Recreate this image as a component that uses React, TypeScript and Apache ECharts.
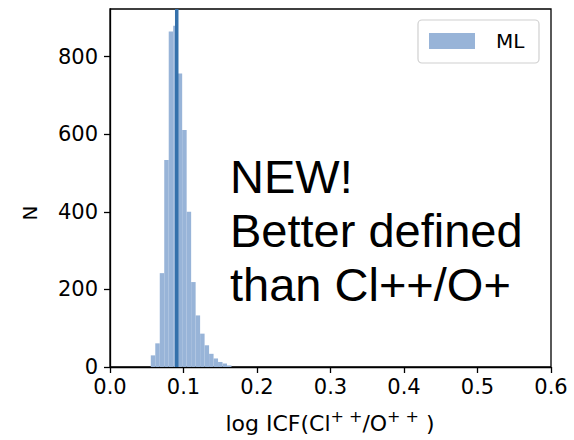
import React, { useEffect, useRef } from "react";
import * as echarts from "echarts";

// Histogram bin edges (log ICF) and counts
const binEdges = [
  0.0555, 0.0616, 0.0677, 0.0738, 0.0799, 0.086, 0.0921, 0.0982, 0.1043, 0.1104,
  0.1165, 0.1226, 0.1287, 0.1348, 0.1409, 0.147, 0.1531, 0.1592, 0.1653,
];
const counts = [30, 61, 242, 534, 865, 880, 757, 611, 400, 219, 133, 86, 56, 34, 22, 13, 9, 4];
const medianValue = 0.0908;
const xTicks = [0, 0.1, 0.2, 0.3, 0.4, 0.5, 0.6];
const yTicks = [0, 200, 400, 600, 800];
const seriesName = "ML";

const BAR_COLOR = "#98b4d8";
const LINE_COLOR = "#3571ab";
const FONT = "DejaVu Sans";

export default function App() {
  const ref = useRef<HTMLDivElement>(null);
  useEffect(() => {
    if (!ref.current) return;
    const chart = echarts.init(ref.current, null, { renderer: "svg" });
    const data = counts.map((c, i) => [binEdges[i], binEdges[i + 1], c]);
    const yMax = 923;
    chart.setOption({
      animation: false,
      grid: {
        left: 110,
        top: 9,
        width: 441,
        height: 358,
        show: true,
        borderColor: "#000",
        borderWidth: 1.3,
        backgroundColor: "transparent",
      },
      xAxis: {
        type: "value",
        min: 0,
        max: 0.6,
        interval: 0.1,
        splitLine: { show: false },
        axisLine: { show: true, onZero: false, lineStyle: { color: "#000", width: 1.3 } },
        axisTick: {
          show: true,
          length: 6,
          lineStyle: { color: "#000", width: 1.3 },
          customValues: xTicks,
        },
        axisLabel: {
          color: "#000",
          fontFamily: FONT,
          fontSize: 21,
          margin: 9,
          customValues: xTicks,
          formatter: (v: number) => v.toFixed(1),
        },
      },
      yAxis: {
        type: "value",
        min: 0,
        max: yMax,
        interval: 200,
        splitLine: { show: false },
        axisLine: { show: true, lineStyle: { color: "#000", width: 1.3 } },
        axisTick: {
          show: true,
          length: 6,
          lineStyle: { color: "#000", width: 1.3 },
          customValues: yTicks,
        },
        axisLabel: {
          color: "#000",
          fontFamily: FONT,
          fontSize: 21,
          margin: 12,
          customValues: yTicks,
        },
      },
      series: [
        {
          type: "custom",
          name: seriesName,
          data,
          encode: { x: [0, 1], y: 2 },
          renderItem: (params: any, api: any) => {
            const s = api.coord([api.value(0), api.value(2)]);
            const e = api.coord([api.value(1), 0]);
            return {
              type: "rect",
              shape: { x: s[0], y: s[1], width: e[0] - s[0], height: e[1] - s[1] },
              style: { fill: BAR_COLOR },
            };
          },
        },
        {
          type: "line",
          data: [
            [medianValue, 0],
            [medianValue, yMax],
          ],
          symbol: "none",
          lineStyle: { color: LINE_COLOR, width: 3.5 },
        },
      ],
      graphic: [
        {
          type: "text",
          left: 230,
          top: 149,
          style: {
            text: "NEW!\nBetter defined\nthan Cl++/O+",
            font: '47px "Liberation Sans"',
            fill: "#000",
            lineHeight: 54,
          },
        },
        {
          type: "rect",
          shape: { x: 418, y: 20, width: 121, height: 43, r: 4 },
          style: { fill: "rgba(255,255,255,0.8)", stroke: "#d0d0d0", lineWidth: 1.2 },
        },
        {
          type: "rect",
          shape: { x: 429, y: 33, width: 46, height: 16 },
          style: { fill: BAR_COLOR },
        },
        {
          type: "text",
          x: 496,
          y: 41,
          style: {
            text: seriesName,
            font: `20px "${FONT}"`,
            fill: "#000",
            verticalAlign: "middle",
          },
        },
        {
          type: "text",
          x: 30,
          y: 213,
          rotation: Math.PI / 2,
          style: {
            text: "N",
            font: `20px "${FONT}"`,
            fill: "#000",
            align: "center",
            verticalAlign: "middle",
          },
        },
        {
          type: "text",
          x: 330,
          y: 423,
          style: {
            text: "{b|log ICF(Cl}{sup|+\u00a0+}{b|/O}{sup|+\u00a0+}{b|\u00a0)}",
            fill: "#000",
            align: "center",
            verticalAlign: "middle",
            rich: {
              b: {
                fontSize: 22,
                fontFamily: FONT,
                fill: "#000",
                lineHeight: 30,
                verticalAlign: "middle",
              },
              sup: {
                fontSize: 16,
                fontFamily: FONT,
                fill: "#000",
                lineHeight: 14,
                verticalAlign: "top",
              },
            },
          },
        },
      ],
    });
    return () => chart.dispose();
  }, []);
  return (
    <div
      ref={ref}
      style={{ position: "absolute", left: 0, top: 0, width: 574, height: 440 }}
    />
  );
}
